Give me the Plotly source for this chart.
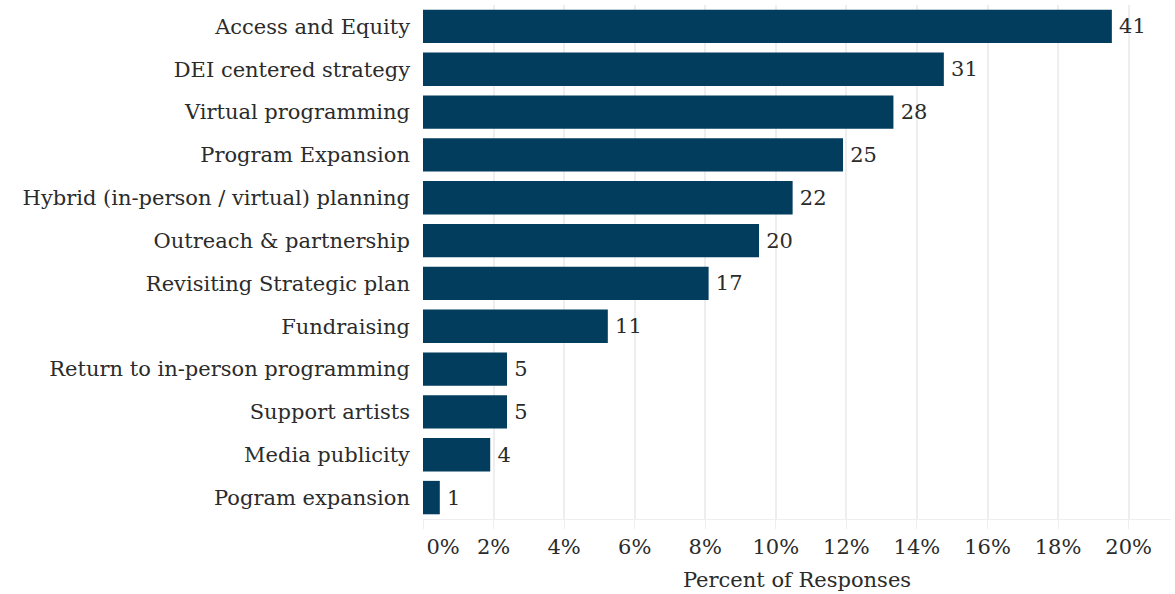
import plotly.graph_objects as go

# Responses per priority area
categories = [
    "Access and Equity",
    "DEI centered strategy",
    "Virtual programming",
    "Program Expansion",
    "Hybrid (in-person / virtual) planning",
    "Outreach & partnership",
    "Revisiting Strategic plan",
    "Fundraising",
    "Return to in-person programming",
    "Support artists",
    "Media publicity",
    "Pogram expansion",
]
counts = [41, 31, 28, 25, 22, 20, 17, 11, 5, 5, 4, 1]

tick_values = [0, 2, 4, 6, 8, 10, 12, 14, 16, 18, 20]
tick_labels = ["0%", "2%", "4%", "6%", "8%", "10%", "12%", "14%", "16%", "18%", "20%"]

total = sum(counts)
percents = [c / total * 100 for c in counts]

FONT = "DejaVu Serif"
SIZE = 21
BAR = "#023d5e"
GRID = "#eeeeee"
TEXT = "#2b2b2b"

fig = go.Figure(
    go.Bar(
        y=categories,
        x=percents,
        orientation="h",
        marker=dict(color=BAR, line=dict(width=0)),
        text=["\u2009" + str(c) for c in counts],
        textposition="outside",
        textfont=dict(family=FONT, size=SIZE, color=TEXT),
        cliponaxis=False,
        hoverinfo="skip",
    )
)

# first label sits a little right of its gridline so it clears the axis corner
label_positions = [0.57] + tick_values[1:]

fig.update_layout(
    width=1175,
    height=594,
    margin=dict(l=423, r=4, t=5, b=75),
    paper_bgcolor="white",
    plot_bgcolor="white",
    bargap=0.22,
    showlegend=False,
    font=dict(family=FONT, size=SIZE, color=TEXT),
    xaxis=dict(
        range=[0, 21.2],
        tickvals=label_positions,
        ticktext=tick_labels,
        showgrid=False,
        ticks="outside",
        ticklen=9,
        tickcolor="rgba(0,0,0,0)",
        tickfont=dict(family=FONT, size=SIZE, color=TEXT),
        showline=True,
        linecolor=GRID,
        linewidth=1,
        zeroline=False,
        minor=dict(
            tickvals=tick_values,
            showgrid=True,
            gridcolor=GRID,
            gridwidth=1.5,
            ticks="outside",
            ticklen=9,
            tickcolor=GRID,
        ),
        title=dict(
            text="Percent of Responses",
            font=dict(family=FONT, size=SIZE, color=TEXT),
            standoff=14,
        ),
        automargin=False,
        fixedrange=True,
    ),
    yaxis=dict(
        autorange="reversed",
        showgrid=False,
        ticks="",
        ticklabelstandoff=12,
        tickfont=dict(family=FONT, size=SIZE, color=TEXT),
        automargin=False,
        fixedrange=True,
    ),
)

fig.write_html("out.html")
